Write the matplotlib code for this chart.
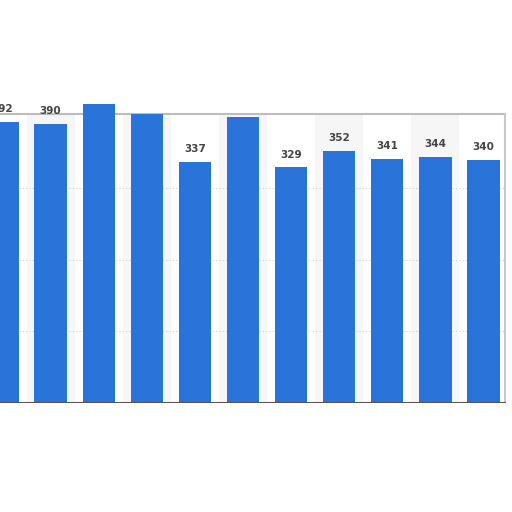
import matplotlib.pyplot as plt

# valores de las barras (las tres sin etiqueta son estimadas)
values = [392, 390, 417, 403, 337, 399, 329, 352, 341, 344, 340]
labels = ['392', '390', '', '', '337', '', '329', '352', '341', '344', '340']
positions = list(range(len(values)))

bar_color = '#2a74d9'

fig = plt.figure(figsize=(5.12, 5.12), dpi=100)
fig.patch.set_facecolor('white')

# eje: abajo en y=403px, arriba en y=60px; x de 0 a 512px
ax = fig.add_axes([0, 1 - 403 / 512, 1, (403 - 60) / 512])
px_per_unit = 0.716
ax.set_ylim(0, (403 - 60) / px_per_unit)
step = 48.1
ax.set_xlim(-2.5 / step, (512 - 2.5) / step)

right_edge = (505 - 2.5) / step
top_value = (403 - 114) / px_per_unit

# bandas alternas de fondo
for i in positions:
    if i % 2 == 1:
        ax.fill_between([i - 0.5, i + 0.5], 0, top_value, color='#f6f6f6', zorder=0, linewidth=0)

# lineas de guia punteadas
for g in [100, 200, 300]:
    ax.plot([-1, right_edge], [g, g], color='#d0d0d0', linestyle=(0, (1, 2)), linewidth=0.8, zorder=1)

# borde del panel
ax.plot([-1, right_edge], [top_value, top_value], color='#bdbdbd', linewidth=1.5, zorder=1)
ax.plot([right_edge, right_edge], [0, top_value], color='#c8c8c8', linewidth=1.5, zorder=1)
ax.plot([-1, right_edge], [0, 0], color='#555555', linewidth=1.5, zorder=3)

ax.bar(positions, values, width=0.67, color=bar_color, zorder=2)

for x, v, t in zip(positions, values, labels):
    if t:
        ax.text(x, v + 11, t, ha='center', va='bottom', fontsize=7.5,
                fontweight='bold', color='#444444', zorder=4)

ax.axis('off')

plt.savefig('out.png', dpi=100)
